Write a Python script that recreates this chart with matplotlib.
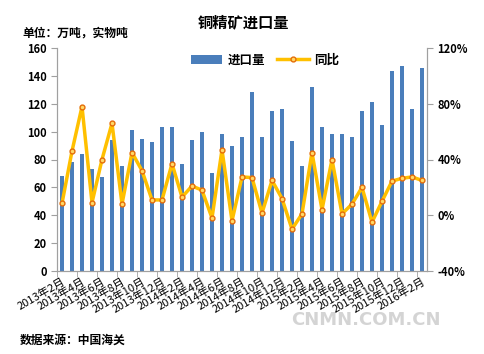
import numpy as np
import matplotlib.pyplot as plt
from matplotlib.ticker import FuncFormatter

plt.rcParams['font.family'] = ['Noto Sans CJK SC', 'DejaVu Sans']

months = []
for y in range(2013, 2017):
    for m in range(1, 13):
        if (y == 2013 and m < 2) or (y == 2016 and m > 2):
            continue
        months.append('%d年%d月' % (y, m))

imports = [68, 78, 84, 73, 67.5, 94, 75, 101.5, 94.5, 92.5, 103.5, 103.5,
           76.5, 94, 100, 70.5, 98.5, 90, 96, 128.5, 96, 115, 116.5, 93,
           75.5, 132, 103.5, 98, 98.5, 96.5, 115, 121, 105, 143.5, 147, 116.5, 145.5]
yoy = [8.5, 46, 78, 9, 40, 66, 8, 45, 32, 11, 11, 37,
       13, 21, 18, -2, 47, -4, 27.5, 27, 1.5, 25, 12, -10,
       1, 45, 4, 40, 1, 8, 20, -5, 10, 24.5, 26.5, 27.5, 25]

fig = plt.figure(figsize=(4.85, 3.54), dpi=100)
ax = fig.add_axes([57 / 485, 1 - 271 / 354, 370 / 485, 223 / 354])
ax2 = ax.twinx()

x = np.arange(len(months))
ax.bar(x, imports, width=0.45, color='#4A7EBB', label='进口量', zorder=2)
ax2.plot(x, yoy, color='#FFC000', lw=2.5, marker='o', ms=3.5, mfc='#FFD966',
         mec='#E46C0A', mew=1, label='同比', zorder=3)

ax.set_xlim(-0.5, len(months) - 0.5)
ax.set_ylim(0, 160)
ax.set_yticks(range(0, 161, 20))
ax2.set_ylim(-40, 120)
ax2.set_yticks(range(-40, 121, 40))
ax2.yaxis.set_major_formatter(FuncFormatter(lambda v, p: '%d%%' % v))

ax.set_xticks(x[::2])
ax.set_xticklabels(months[::2], rotation=30, ha='right', rotation_mode='anchor', fontsize=8)
ax.set_xticks(np.arange(-0.5, len(months), 2), minor=True)
ax.tick_params(axis='x', which='major', length=0, pad=4)
ax.tick_params(axis='x', which='minor', length=4, color='#A0A0A0')

for a in (ax, ax2):
    a.spines['top'].set_visible(False)
    for s in ('left', 'right', 'bottom'):
        a.spines[s].set_color('#A0A0A0')
    a.tick_params(axis='y', length=4, color='#A0A0A0', labelsize=8)
for lbl in ax.get_yticklabels() + ax2.get_yticklabels():
    lbl.set_fontweight('bold')

h1, l1 = ax.get_legend_handles_labels()
h2, l2 = ax2.get_legend_handles_labels()
fig.legend(h1 + h2, l1 + l2, loc='center', bbox_to_anchor=(265 / 485, 1 - 60 / 354),
           ncol=2, frameon=False, prop={'size': 9, 'weight': 'bold'},
           handlelength=2.5, columnspacing=1.0, handletextpad=0.4)

fig.text(243 / 485, 1 - 22 / 354, '铜精矿进口量', ha='center', va='center',
         fontsize=11, fontweight='bold')
fig.text(22 / 485, 1 - 33 / 354, '单位：万吨，实物吨', ha='left', va='center',
         fontsize=8.5, fontweight='bold')
fig.text(20 / 485, 1 - 340 / 354, '数据来源：中国海关', ha='left', va='center',
         fontsize=8.5, fontweight='bold')
fig.text(366 / 485, 1 - 320 / 354, 'CNMN.COM.CN', ha='center', va='center',
         fontsize=13, color='#B8B8B8', alpha=0.6, fontweight='bold', family='DejaVu Sans')

fig.savefig('out.png', dpi=100)
